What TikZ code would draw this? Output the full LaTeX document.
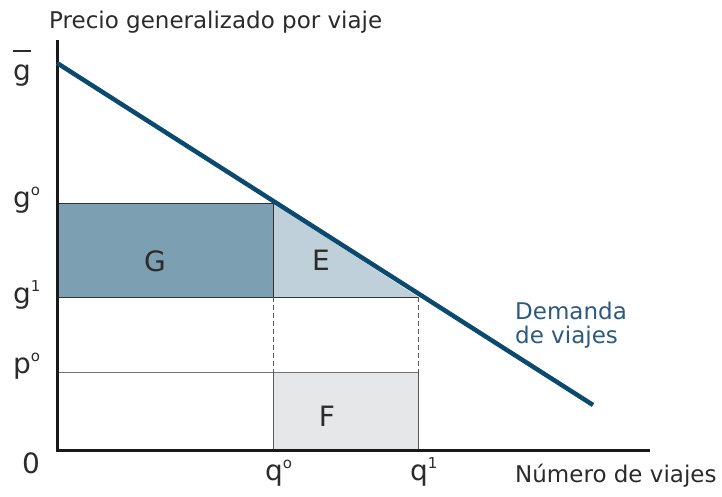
\documentclass[tikz,border=0pt]{standalone}
\usepackage{fontspec}
\setmainfont{DejaVu Sans}
\definecolor{demand}{HTML}{0B4A6F}
\definecolor{gfill}{HTML}{7D9FB2}
\definecolor{efill}{HTML}{BFD0DB}
\definecolor{ffill}{HTML}{E6E7E9}
\definecolor{lbl}{HTML}{2B2B2B}
\definecolor{dlbl}{HTML}{2A5A80}
\newcommand\sps[1]{\raisebox{0.42em}{\fontsize{15}{15}\selectfont #1}}
\tikzset{
  lab/.style={font=\fontsize{23}{26}\selectfont, text=lbl, inner sep=0pt},
  big/.style={font=\fontsize{28}{32}\selectfont, text=lbl, inner sep=0pt},
  thin line/.style={draw=black!80, line width=0.9pt},
  axis/.style={draw=black!90, line width=3pt},
}
\begin{document}
\begin{tikzpicture}[x=1pt,y=-1pt]
\useasboundingbox (0,0) rectangle (722,496);
% coordinates
\coordinate (O) at (57,450);
\coordinate (ytop) at (57,40);
\coordinate (xend) at (650,450);
\coordinate (d0) at (57,63);
\coordinate (d1) at (593,405);
\coordinate (g0L) at (57,203);
\coordinate (g1L) at (57,297);
\coordinate (p0L) at (57,372);
\coordinate (A) at (273,203);
\coordinate (B) at (273,297);
\coordinate (C) at (418,297);
\coordinate (D) at (273,372);
\coordinate (Ep) at (418,372);
\coordinate (Q0) at (273,450);
\coordinate (Q1) at (418,450);
% fills
\fill[gfill] (g0L) rectangle (B);
\fill[efill] (A) -- (B) -- (C) -- cycle;
\fill[ffill] (D) rectangle (Q1);
% lines
\draw[thin line] (g0L) -- (A) -- (B);
\draw[thin line] (g1L) -- (C);
\draw[thin line, draw=black!55] (p0L) -- (Ep);
\draw[thin line, draw=black!65] (D) -- (Q0);
\draw[thin line, draw=black!65] (Ep) -- (Q1);
\draw[thin line, draw=black!65, dash pattern=on 5pt off 3pt] (B) -- (D);
\draw[thin line, draw=black!65, dash pattern=on 5pt off 3pt] (C) -- (Ep);
% axes
\draw[axis] (ytop) -- (O) -- (xend);
% demand
\draw[draw=demand, line width=4.5pt] (d0) -- (d1);
% labels
\node[lab, anchor=base west] (title) at (49,28) {Precio generalizado por viaje};
\node[big, anchor=base west] (gbar) at (13,80) {g};
\draw[lbl, line width=2.6pt] (gbar.west |- 0,51) -- (gbar.east |- 0,51);
\node[big, anchor=base west] (g0) at (13,207) {g\sps{o}};
\node[big, anchor=base west] (g1) at (13,303) {g\sps{1}};
\node[big, anchor=base west] (p0) at (13,373) {p\sps{o}};
\node[big, anchor=base] (zero) at (31,473) {0};
\node[big, anchor=base west] (q0) at (265,480) {q\sps{o}};
\node[big, anchor=base west] (q1) at (410,480) {q\sps{1}};
\node[lab, anchor=base west] (xl) at (515,482) {Número de viajes};
\node[lab, text=dlbl, anchor=base west] (dem1) at (515,319) {Demanda};
\node[lab, text=dlbl, anchor=base west] (dem2) at (515,343) {de viajes};
\node[big, anchor=base] (G) at (155,271) {G};
\node[big, anchor=base] (E) at (321,270) {E};
\node[big, anchor=base] (F) at (327,426) {F};
\end{tikzpicture}
\end{document}
